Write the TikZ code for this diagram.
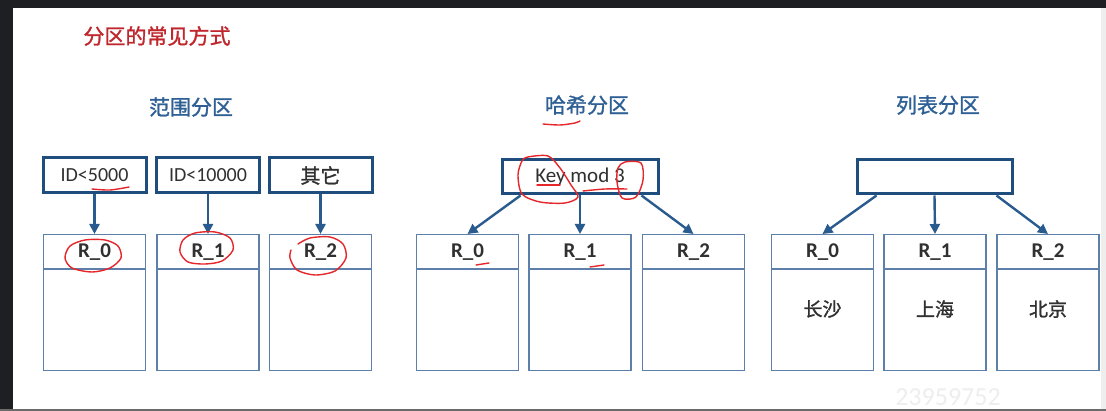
\documentclass[tikz,border=0pt]{standalone}
\usepackage{fontspec}
\setmainfont{Carlito}
\newfontfamily\cjk{Noto Sans CJK SC}[FakeBold=1.3]
\usetikzlibrary{arrows.meta,calc}
\definecolor{ptFrame}{HTML}{1E1F22}
\definecolor{ptEdge}{HTML}{6B6B6B}
\definecolor{ptBlue}{HTML}{1F4E7E}
\definecolor{ptArrow}{HTML}{2A5B8E}
\definecolor{ptLine}{HTML}{5C80AA}
\definecolor{ptTitle}{HTML}{2E6095}
\definecolor{ptRed}{HTML}{C0272D}
\definecolor{ptInk}{HTML}{303030}
\definecolor{ptPen}{HTML}{E5262B}
\definecolor{ptFaint}{HTML}{EEEEEE}
\tikzset{
 heading/.style={font=\cjk\fontsize{21}{24}\selectfont,text=ptRed,inner sep=0pt},
 sectitle/.style={font=\cjk\fontsize{21}{24}\selectfont,text=ptTitle,inner sep=0pt},
 keybox/.style={draw=ptBlue,line width=3pt,fill=white,minimum width=103pt,minimum height=35pt,
   inner sep=0pt,text=ptInk,font=\fontsize{20}{24}\selectfont},
 partbox/.style={draw=ptLine,line width=1.4pt,minimum width=102pt,minimum height=136pt,inner sep=0pt,anchor=north},
 divline/.style={draw=ptLine,line width=1.4pt},
 rlabel/.style={font=\bfseries\fontsize{21}{24}\selectfont,text=ptInk,inner sep=0pt,anchor=base},
 cityname/.style={font=\cjk\fontsize{19}{22}\selectfont,text=ptInk,inner sep=0pt},
 flow/.style={draw=ptArrow,line width=2.4pt,-{Triangle[length=10pt,width=10pt]}},
 pen/.style={draw=ptPen,line width=1.4pt,line cap=round,line join=round},
 wmark/.style={font=\fontsize{26}{28}\selectfont,text=ptFaint,inner sep=0pt}
}
\newcommand{\ptPart}[3]{%
 \node[partbox] (#1) at (#2,234) {};
 \draw[divline] ([yshift=-35pt]#1.north west) -- ([yshift=-35pt]#1.north east);
 \node[rlabel] (#1r) at ([yshift=-24pt]#1.north) {R\_#3};}

\begin{document}
\begin{tikzpicture}[x=1pt,y=-1pt]
 \useasboundingbox (0,0) rectangle (1106,411);
 \fill[white] (0,0) rectangle (1106,411);
 \fill[ptFrame] (0,0) rectangle (1106,8);
 \fill[ptFrame] (0,0) rectangle (13,411);
 \fill[ptEdge] (0,409) rectangle (1106,411);
 \fill[ptFaint] (1101,8) rectangle (1106,409);
 \node[heading] (title) at (157,36) {分区的常见方式};
 \node[sectitle] (rngtitle) at (191,107) {范围分区};
 \node[sectitle] (hshtitle) at (587,105) {哈希分区};
 \node[sectitle] (lsttitle) at (938,105) {列表分区};
 \foreach \i/\x/\t in {0/94.5/ID<5000,1/208/ID<10000,2/320.5/{\cjk 其它}}{
  \node[keybox] (rk\i) at (\x,175.5) {\t};
  \ptPart{rp\i}{\x}{\i}
  \draw[flow] (rk\i.south) -- (rp\i.north);
 }
 \node[keybox,minimum width=156pt,minimum height=34pt,font=\fontsize{21}{24}\selectfont] (hk) at (580,177) {Key mod 3};
 \foreach \i/\x in {0/467.5,1/580,2/693.5}{\ptPart{hp\i}{\x}{\i}}
 \draw[flow] ([xshift=20pt]hk.south west) -- (hp0.north);
 \draw[flow] (hk.south) -- (hp1.north);
 \draw[flow] ([xshift=-18pt]hk.south east) -- (hp2.north);
 \node[keybox,minimum width=155pt,minimum height=34pt] (lk) at (934.5,177) {};
 \foreach \i/\x/\c in {0/822.5/长沙,1/935/上海,2/1048/北京}{
  \ptPart{lp\i}{\x}{\i}
  \node[cityname] (lc\i) at ([yshift=-75pt]lp\i.north) {\c};
 }
 \draw[flow] ([xshift=21pt]lk.south west) -- (lp0.north);
 \draw[flow] (lk.south) -- (lp1.north);
 \draw[flow] ([xshift=-17pt]lk.south east) -- (lp2.north);
 \node[wmark] (mark) at (948,397) {23959752};
 \draw[pen] plot[smooth] coordinates {(92,189) (110,190) (129,187)};
 \draw[pen] plot[smooth cycle] coordinates {(70,246) (85,240) (105,240) (118,246) (121,258) (110,268) (92,272) (72,268) (65,258)};
 \draw[pen] plot[smooth cycle] coordinates {(183,240) (195,233) (215,232) (230,238) (233,250) (222,261) (205,264) (188,262) (180,252)};
 \draw[pen] plot[smooth] coordinates {(298,244) (310,238) (330,237) (343,244) (346,258) (335,271) (315,275) (297,270) (290,258) (291,250)};
 \draw[pen] plot[smooth] coordinates {(543,124) (560,125) (575,123) (580,121)};
 \draw[pen] plot[smooth cycle] coordinates {(528,157) (548,156) (560,168) (571,185) (578,197) (565,203) (540,202) (522,194) (518,175) (522,161)};
 \draw[pen] plot[smooth cycle] coordinates {(625,162) (641,163) (643,180) (636,197) (622,198) (617,182) (618,168)};
 \draw[pen] (537,185) -- (560,185);
 \draw[pen] plot[smooth] coordinates {(583,191) (605,189) (627,189)};
 \draw[pen] (476,265) -- (489,263);
 \draw[pen] (590,267) -- (604,265);
\end{tikzpicture}
\end{document}
